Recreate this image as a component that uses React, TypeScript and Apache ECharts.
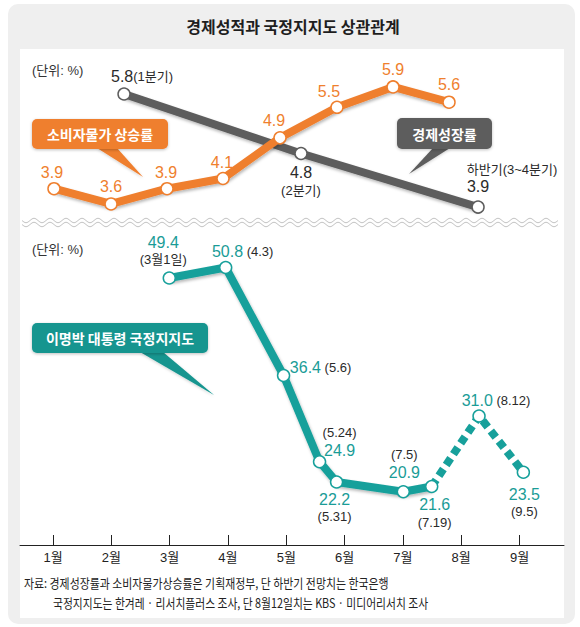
import React, { useEffect, useRef } from "react";
import * as echarts from "echarts";

// ---------- data ----------
const TITLE = "경제성적과 국정지지도 상관관계";
const UNIT_TEXT = "(단위: %)";
const MONTH_TICKS = [1, 2, 3, 4, 5, 6, 7, 8, 9];

// 소비자물가 상승률 (monthly)
const CPI_POSITIONS = [1.017, 1.995, 2.955, 3.915, 4.893, 5.87, 6.831, 7.791];
const CPI_VALUES = [3.9, 3.6, 3.9, 4.1, 4.9, 5.5, 5.9, 5.6];

// 경제성장률 (quarterly / half-year)
const GDP_POSITIONS = [2.218, 5.253, 8.289];
const GDP_VALUES = [5.8, 4.8, 3.9];
const GDP_PERIODS = ["1분기", "2분기", "하반기(3~4분기)"];

// 이명박 대통령 국정지지도
const APPROVAL_POSITIONS = [2.994, 3.961, 4.954, 5.571, 5.863, 7.007, 7.494, 8.306, 9.066];
const APPROVAL_VALUES = [49.4, 50.8, 36.4, 24.9, 22.2, 20.9, 21.6, 31.0, 23.5];
const APPROVAL_DATES = ["3월1일", "4.3", "5.6", "5.24", "5.31", "7.5", "7.19", "8.12", "9.5"];
const DASHED_FROM = 6;

const CALLOUT_CPI = "소비자물가 상승률";
const CALLOUT_GDP = "경제성장률";
const CALLOUT_APPROVAL = "이명박 대통령 국정지지도";
const SOURCE_LINES = [
  "자료: 경제성장률과 소비자물가상승률은 기획재정부, 단 하반기 전망치는 한국은행",
  "국정지지도는 한겨레 · 리서치플러스 조사, 단 8월12일치는 KBS · 미디어리서치 조사",
];

// ---------- label layout (kept apart from data) ----------
const CPI_LABEL_OFFSETS = [[-2, -16], [0, -17], [-1, -16], [-1, -16], [-6, -17], [-8, -16], [0, -17], [0, -18]];
const GDP_LABEL_OFFSETS = [[18, -17], [0, 27.5], [34, -29]];
const APPROVAL_LABEL_LAYOUT = ["below", "inline", "inline", "dateAbove", "below", "dateAbove", "below", "inline", "below"];
const APPROVAL_LABEL_OFFSETS = [
  [-6, -27.5], [17, -16], [37, -8], [20, -20], [-2, 25.5], [1, -28], [3, 26.5], [17, -16], [1, 30.5],
];

// ---------- styles ----------
const ORANGE = "#ef7f2e";
const GRAY = "#5d5d5d";
const TEAL = "#17a09b";
const TEAL_TEXT = "#1a9c97";
const DARK = "#2a2a2a";
const FONT = "'Liberation Sans', 'Noto Sans CJK KR', sans-serif";
const KFONT = "'Noto Sans CJK KR', 'Liberation Sans', sans-serif";

const X_MIN = 0.434;
const X_MAX = 9.763;

const lineShadow = {
  shadowColor: "rgba(0,0,0,0.28)",
  shadowBlur: 3,
  shadowOffsetX: 1,
  shadowOffsetY: 2,
};

function wave(x0: number, x1: number, yc: number, amp: number, period: number) {
  const pts: number[][] = [];
  for (let x = x0; x <= x1; x += 1) {
    pts.push([x, yc + amp * Math.sin(((x - x0) / period) * Math.PI * 2)]);
  }
  return pts;
}

function callout(
  x: number, y: number, w: number, h: number, color: string, text: string, tail: number[][]
) {
  return [
    {
      type: "polygon",
      shape: { points: tail },
      style: { fill: color, shadowColor: "rgba(0,0,0,0.2)", shadowBlur: 3, shadowOffsetY: 1 },
      z: 20,
    },
    {
      type: "rect",
      shape: { x, y, width: w, height: h, r: 5 },
      style: { fill: color, shadowColor: "rgba(0,0,0,0.25)", shadowBlur: 3, shadowOffsetY: 1 },
      z: 21,
    },
    {
      type: "text",
      x: x + w / 2,
      y: y + h / 2,
      style: {
        text,
        fill: "#ffffff",
        font: `bold 14px ${KFONT}`,
        textAlign: "center",
        textVerticalAlign: "middle",
      },
      z: 22,
    },
  ];
}

function buildOption() {
  const valRich = {
    v: { fontSize: 16, color: TEAL_TEXT, fontFamily: FONT, lineHeight: 18 },
    d: { fontSize: 13, color: DARK, fontFamily: FONT, lineHeight: 17 },
  };

  const approvalLabel = (i: number) => {
    const v = APPROVAL_VALUES[i].toFixed(1);
    const d = `(${APPROVAL_DATES[i]})`;
    const layout = APPROVAL_LABEL_LAYOUT[i];
    if (layout === "inline") return `{v|${v}}{d| ${d}}`;
    if (layout === "dateAbove") return `{d|${d}}\n{v|${v}}`;
    return `{v|${v}}\n{d|${d}}`;
  };

  const approvalItem = (i: number, hideLabel = false, hideSymbol = false) => ({
    value: [APPROVAL_POSITIONS[i], APPROVAL_VALUES[i]],
    symbol: hideSymbol ? "none" : "circle",
    label: hideLabel
      ? { show: false }
      : { show: true, formatter: approvalLabel(i), offset: APPROVAL_LABEL_OFFSETS[i] },
  });

  const solidIdx = APPROVAL_VALUES.map((_, i) => i).filter((i) => i <= DASHED_FROM);
  const dashedIdx = APPROVAL_VALUES.map((_, i) => i).filter((i) => i >= DASHED_FROM);

  const gdpLabel = (i: number) => {
    const v = GDP_VALUES[i].toFixed(1);
    const p = `(${GDP_PERIODS[i]})`;
    if (i === 0) return `{v|${v}}{d|${p}}`;
    if (i === 1) return `{v|${v}}\n{d|${p}}`;
    return `{d|${GDP_PERIODS[i]}}\n{vp|${v}}`;
  };

  const graphics: any[] = [
    {
      type: "rect",
      shape: { x: 8, y: 4, width: 567, height: 620, r: 10 },
      style: { fill: "#efefef" },
      z: -10,
    },
    {
      type: "rect",
      shape: { x: 20, y: 49, width: 544, height: 569 },
      style: { fill: "#ffffff" },
      z: -9,
    },
    {
      type: "text",
      x: 293,
      y: 26,
      style: {
        text: TITLE,
        font: `bold 16px ${KFONT}`,
        fill: "#1e1e1e",
        textAlign: "center",
        textVerticalAlign: "middle",
      },
    },
    {
      type: "text",
      x: 32,
      y: 70,
      style: { text: UNIT_TEXT, font: `13px ${FONT}`, fill: "#333", textVerticalAlign: "middle" },
    },
    {
      type: "text",
      x: 32,
      y: 249,
      style: { text: UNIT_TEXT, font: `13px ${FONT}`, fill: "#333", textVerticalAlign: "middle" },
    },
    {
      type: "polyline",
      shape: { points: wave(22, 558, 220.5, 2.2, 16) },
      style: { stroke: "#c4c4c4", lineWidth: 1, fill: "none" },
      z: -5,
    },
    {
      type: "polyline",
      shape: { points: wave(22, 558, 224.5, 2.2, 16) },
      style: { stroke: "#c4c4c4", lineWidth: 1, fill: "none" },
      z: -5,
    },
    ...callout(32, 119, 136, 30, ORANGE, CALLOUT_CPI, [[97, 148], [117, 148], [143, 177]]),
    ...callout(397, 118, 95, 31, GRAY, CALLOUT_GDP, [[433, 148], [450, 148], [409, 174]]),
    ...callout(32, 323, 176, 30, "#15958f", CALLOUT_APPROVAL, [[140, 352], [163, 352], [214, 395]]),
    {
      type: "text",
      x: 24,
      y: 582,
      scaleX: 0.84,
      style: { text: SOURCE_LINES[0], font: `13px ${KFONT}`, fill: "#222", textVerticalAlign: "middle" },
    },
    {
      type: "text",
      x: 53,
      y: 602,
      scaleX: 0.83,
      style: { text: SOURCE_LINES[1], font: `13px ${KFONT}`, fill: "#222", textVerticalAlign: "middle" },
    },
  ];

  return {
    animation: false,
    backgroundColor: "#ffffff",
    grid: [
      { left: 20, right: 16, top: 61.5, height: 173 },
      { left: 20, right: 16, top: 236, height: 309 },
    ],
    xAxis: [
      { type: "value", gridIndex: 0, min: X_MIN, max: X_MAX, show: false },
      {
        type: "value",
        gridIndex: 1,
        min: X_MIN,
        max: X_MAX,
        splitLine: { show: false },
        axisLine: { show: true, onZero: false, lineStyle: { color: "#222", width: 1 } },
        axisTick: {
          show: true,
          inside: true,
          length: 10,
          customValues: MONTH_TICKS,
          lineStyle: { color: "#222", width: 1 },
        },
        axisLabel: {
          show: true,
          customValues: MONTH_TICKS,
          formatter: (v: number) => `${v}월`,
          color: "#222",
          fontSize: 13,
          fontFamily: FONT,
          margin: 6,
        },
      },
    ],
    yAxis: [
      { type: "value", gridIndex: 0, min: 3, max: 6.4, show: false },
      { type: "value", gridIndex: 0, min: 3.439, max: 6.346, show: false },
      { type: "value", gridIndex: 1, min: 13.8, max: 55, show: false },
    ],
    graphic: graphics,
    series: [
      {
        type: "line",
        name: "경제성장률",
        xAxisIndex: 0,
        yAxisIndex: 1,
        silent: true,
        z: 3,
        data: GDP_VALUES.map((v, i) => ({
          value: [GDP_POSITIONS[i], v],
          label: { formatter: gdpLabel(i), offset: GDP_LABEL_OFFSETS[i] },
        })),
        symbol: "circle",
        symbolSize: 12,
        lineStyle: { color: GRAY, width: 8, ...lineShadow },
        itemStyle: { color: "#ffffff", borderColor: GRAY, borderWidth: 1.5 },
        label: {
          show: true,
          position: "inside",
          rich: {
            v: { fontSize: 16, color: DARK, fontFamily: FONT, lineHeight: 18 },
            vp: { fontSize: 16, color: DARK, fontFamily: FONT, lineHeight: 18, padding: [0, 68, 0, 0] },
            d: { fontSize: 13, color: DARK, fontFamily: FONT, lineHeight: 17 },
          },
        },
      },
      {
        type: "line",
        name: "소비자물가 상승률",
        xAxisIndex: 0,
        yAxisIndex: 0,
        silent: true,
        z: 4,
        data: CPI_VALUES.map((v, i) => ({
          value: [CPI_POSITIONS[i], v],
          label: { offset: CPI_LABEL_OFFSETS[i] },
        })),
        symbol: "circle",
        symbolSize: 12,
        lineStyle: { color: ORANGE, width: 8, ...lineShadow },
        itemStyle: { color: "#ffffff", borderColor: ORANGE, borderWidth: 1.5 },
        label: {
          show: true,
          position: "inside",
          color: ORANGE,
          fontSize: 16,
          fontFamily: FONT,
          formatter: (p: any) => Number(p.value[1]).toFixed(1),
        },
      },
      {
        type: "line",
        name: "국정지지도 전망",
        xAxisIndex: 1,
        yAxisIndex: 2,
        silent: true,
        z: 3,
        data: dashedIdx.map((i, k) => approvalItem(i, k === 0, k === 0)),
        symbol: "circle",
        symbolSize: 12,
        lineStyle: { color: TEAL, width: 8, type: [8, 5], cap: "butt" },
        itemStyle: { color: "#ffffff", borderColor: TEAL, borderWidth: 1.5 },
        label: { show: true, position: "inside", rich: valRich },
      },
      {
        type: "line",
        name: "국정지지도",
        xAxisIndex: 1,
        yAxisIndex: 2,
        silent: true,
        z: 4,
        data: solidIdx.map((i) => approvalItem(i)),
        symbol: "circle",
        symbolSize: 12,
        lineStyle: { color: TEAL, width: 8, ...lineShadow },
        itemStyle: { color: "#ffffff", borderColor: TEAL, borderWidth: 1.5 },
        label: { show: true, position: "inside", rich: valRich },
      },
    ],
  };
}

export default function App() {
  const ref = useRef<HTMLDivElement>(null);
  useEffect(() => {
    if (!ref.current) return;
    const chart = echarts.init(ref.current, null, { renderer: "svg" });
    chart.setOption(buildOption() as any);
    return () => chart.dispose();
  }, []);
  return (
    <div
      ref={ref}
      style={{ position: "absolute", left: 0, top: 0, width: 580, height: 627 }}
    />
  );
}
